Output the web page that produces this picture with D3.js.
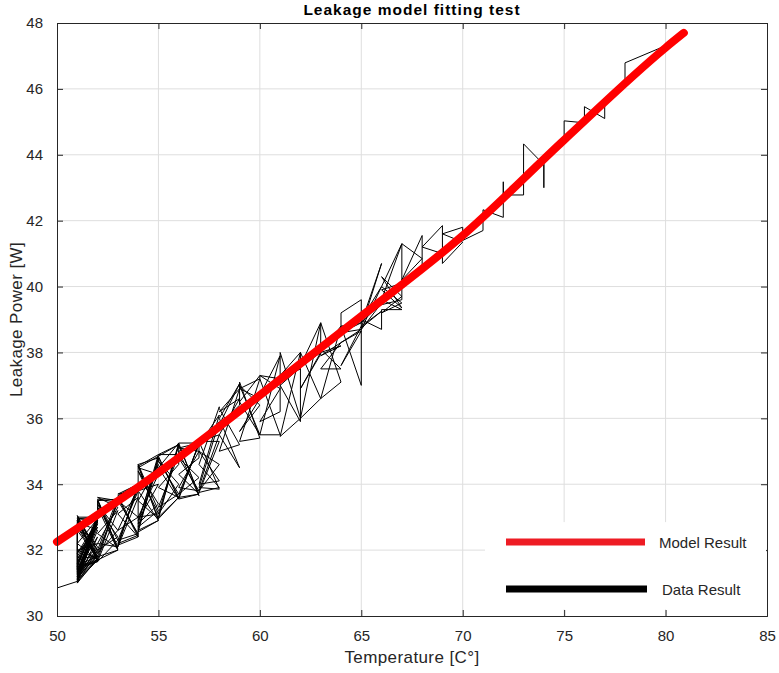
<!DOCTYPE html>
<html>
<head>
<meta charset="utf-8">
<script src="https://cdn.jsdelivr.net/npm/d3@7"></script>
<style>
  body { margin: 0; background: #fff; }
  text { font-family: "Liberation Sans", Arial, Helvetica, sans-serif; fill: #262626; }
</style>
</head>
<body>
<div id="chart"></div>
<script>
// axis ticks
const xTicks = [50, 55, 60, 65, 70, 75, 80, 85];
const yTicks = [30, 32, 34, 36, 38, 40, 42, 44, 46, 48];

// fitted model (red curve)
const modelTemp = [50, 55, 60, 65, 70, 75, 80, 80.9];
const modelPower = [32.25, 34.35, 36.7, 39.1, 41.55, 44.45, 47.25, 47.7];

// measured samples [temperature, power], in recording order
const band51to54 = [
  [50, 30.85], [51, 31.05],
  [51, 32.9], [52, 31.7], [51, 31.1], [52, 32.95], [51, 31.3], [51, 32.8], [52, 31.8], [51, 31.2],
  [52, 33.0], [51, 31.5], [52, 31.65], [51, 32.95], [52, 32.0], [51, 31.0], [52, 32.9], [51, 31.4],
  [51, 32.6], [52, 31.75], [51, 31.15], [52, 32.8], [51, 31.6], [52, 33.05], [51, 31.25], [52, 31.9],
  [51, 32.7], [52, 31.7], [51, 31.35], [52, 32.85], [51, 31.8], [52, 31.75], [51, 32.9], [52, 32.1],
  [51, 31.1], [52, 32.95], [51, 31.55], [52, 31.8], [51, 33.05], [52, 31.95], [51, 31.3], [52, 32.9],
  [51, 31.9], [52, 32.7], [51, 31.2], [52, 33.0], [51, 33.0], [52, 31.65], [51, 31.45], [52, 32.4],
  [51, 31.05], [52, 31.7], [51, 32.2], [52, 32.95], [51, 31.7], [52, 31.85], [51, 31.15], [52, 32.6],
  [51, 32.85], [52, 31.7], [51, 31.5], [52, 33.0], [51, 31.25], [52, 32.2], [51, 32.0], [52, 31.75],
  [51, 31.0], [52, 32.9], [51, 32.95], [52, 33.0],
  [52, 33.5], [53, 32.0], [52, 31.8], [53, 33.5], [52, 33.6], [53, 33.3], [52, 32.2], [53, 32.1],
  [52, 33.4], [53, 32.6], [52, 31.9], [53, 33.45], [52, 33.55], [53, 32.05], [52, 32.5], [53, 33.2],
  [52, 31.65], [53, 32.3], [52, 33.5], [53, 33.55], [52, 31.7], [53, 32.0], [52, 33.3], [53, 32.4],
  [52, 32.0], [53, 33.6],
  [53, 33.6], [54, 32.4], [53, 32.15], [54, 34.0], [53, 33.7], [54, 33.8], [53, 32.3], [54, 32.5],
  [53, 33.5], [54, 33.0], [53, 32.6], [54, 33.9], [53, 32.2], [54, 32.45], [53, 33.65], [54, 34.0],
  [53, 32.1], [54, 33.6], [53, 33.1], [54, 32.4]
];
const band54to58 = [
  [54, 34.6], [55, 32.9], [54, 32.6], [55, 34.85], [54, 34.5], [55, 34.3], [54, 33.0], [55, 33.1],
  [54, 34.4], [55, 33.4], [54, 32.8], [55, 34.9], [54, 34.55], [55, 32.95], [54, 33.5], [55, 34.6],
  [54, 32.7], [55, 33.2], [54, 34.6], [55, 34.8], [54, 32.55], [55, 32.9], [54, 33.8], [55, 34.0],
  [54, 32.9], [55, 34.7],
  [55, 34.8], [56, 33.6], [55, 33.0], [56, 35.2], [55, 34.9], [56, 34.9], [55, 33.3], [56, 33.7],
  [55, 34.7], [56, 34.0], [55, 33.1], [56, 35.25], [55, 34.5], [56, 33.55], [55, 34.85], [56, 35.2],
  [55, 32.95], [56, 33.6], [55, 33.9], [56, 34.6],
  [56, 35.2], [57, 33.7], [56, 33.6], [57, 35.25], [56, 35.1], [57, 35.0], [56, 33.9], [57, 33.8],
  [56, 34.8], [57, 34.2], [56, 33.7], [57, 35.2], [56, 35.0], [57, 33.65], [56, 35.25], [57, 35.25],
  [56, 33.55], [57, 33.7], [56, 34.3], [57, 34.8],
  [57, 35.3], [58, 33.85], [57, 33.9], [58, 35.9], [57, 35.2], [58, 36.1], [57, 34.0], [58, 34.1],
  [57, 35.0], [58, 34.6], [57, 33.8], [58, 35.5], [57, 35.3], [58, 35.3], [57, 33.75], [58, 33.9],
  [57, 34.6], [58, 36.35]
];
const band58to62 = [
  [58, 36.3], [59, 35.2], [58, 35.0], [59, 36.9], [58, 36.2], [59, 36.6], [58, 35.5], [59, 34.5],
  [58, 36.0], [59, 37.05], [58, 35.8], [59, 36.4],
  [59, 37.1], [60, 35.4], [59, 35.3], [60, 37.2], [59, 36.9], [60, 36.6], [59, 35.6], [60, 36.4],
  [59, 37.0], [60, 35.5], [59, 36.5], [60, 37.3],
  [60, 37.2], [61, 35.5], [60, 35.5], [61, 37.9], [60, 36.7], [61, 37.2], [60, 37.3], [61, 36.9],
  [60, 35.9], [61, 36.2],
  [61, 38.0], [62, 36.0], [61, 35.45], [62, 38.0], [61, 37.3], [62, 37.5], [61, 37.2], [62, 37.55],
  [61, 37.0], [62, 35.9]
];
const band62to67 = [
  [62, 38.0], [63, 36.6], [62, 36.0], [63, 38.9], [62, 37.6], [63, 38.1], [62, 37.55], [63, 38.0],
  [62, 36.9], [63, 37.95],
  [63, 38.9], [64, 37.1], [63, 36.6], [64, 38.8], [63, 38.0], [64, 38.2], [63, 37.9], [64, 38.3],
  [63, 37.5], [64, 37.5], [63, 38.1], [64, 38.6],
  [64, 39.2], [65, 39.6], [65, 37.0], [64, 38.8], [65, 38.9], [64, 38.6], [65, 38.7], [64, 38.3],
  [65, 38.65], [64, 37.6], [65, 38.8],
  [66, 39.25], [65, 38.75], [66, 40.7], [65, 38.9], [66, 39.5], [65, 38.7], [66, 40.0], [65, 39.0],
  [66, 38.7],
  [66, 39.3], [67, 39.3], [66, 39.6], [67, 41.3], [66, 40.0], [67, 39.5], [66, 39.2], [67, 39.7],
  [66, 40.3], [67, 39.35], [66, 39.9], [67, 40.1], [66, 39.45], [67, 39.6]
];
const band67to80 = [
  [67, 41.3], [68, 40.85], [67, 40.2], [68, 41.55], [68, 40.6], [69, 41.0], [68, 41.2], [69, 41.85],
  [69, 40.7], [70, 41.35], [69, 41.6], [70, 41.8], [70, 41.4], [71, 41.7], [71, 42.33], [72, 42.1],
  [72, 43.18], [72, 42.78], [73, 42.78], [73, 44.33], [74, 43.7], [74, 43.0], [74, 43.97], [75, 44.42],
  [75, 45.03], [76, 44.97], [76, 45.46], [77, 45.1], [77, 45.7], [78, 46.19], [78, 46.79], [80, 47.31]
];

var margin = { top: 23, left: 57, right: 12, bottom: 57 },
    width = 779 - margin.left - margin.right,
    height = 673 - margin.top - margin.bottom;

var svg = d3.select("#chart")
    .append("svg")
    .attr("width", 779)
    .attr("height", 673)
    .append("g")
    .attr("transform", "translate(" + margin.left + "," + margin.top + ")");

var x = d3.scaleLinear().domain([50, 85]).range([0, width]);
var y = d3.scaleLinear().domain([30, 48]).range([height, 0]);

// GRID
svg.append("g").selectAll("line")
    .data(xTicks.slice(1, -1))
    .enter().append("line")
    .attr("x1", d => x(d)).attr("x2", d => x(d))
    .attr("y1", 0).attr("y2", height)
    .attr("stroke", "#dedede").attr("stroke-width", 1);

svg.append("g").selectAll("line")
    .data(yTicks.slice(1, -1))
    .enter().append("line")
    .attr("x1", 0).attr("x2", width)
    .attr("y1", d => y(d)).attr("y2", d => y(d))
    .attr("stroke", "#dedede").attr("stroke-width", 1);

// DATA
var samples = band51to54.concat(band54to58, band58to62, band62to67, band67to80);

var dataLine = d3.line()
    .x(d => x(d[0]))
    .y(d => y(d[1]));

svg.append("path")
    .datum(samples)
    .attr("d", dataLine)
    .attr("fill", "none")
    .attr("stroke", "#000")
    .attr("stroke-width", 1);

// MODEL
var model = modelTemp.map((t, i) => [t, modelPower[i]]);

var modelLine = d3.line()
    .x(d => x(d[0]))
    .y(d => y(d[1]))
    .curve(d3.curveMonotoneX);

svg.append("path")
    .datum(model)
    .attr("d", modelLine)
    .attr("fill", "none")
    .attr("stroke", "#ff0000")
    .attr("stroke-width", 8)
    .attr("stroke-linecap", "round");

// AXES
var xAxis = d3.axisBottom(x).tickValues(xTicks).tickSize(-6).tickPadding(14);
var yAxis = d3.axisLeft(y).tickValues(yTicks).tickSize(-6).tickPadding(14);

function styleAxis(g) {
    g.select(".domain").attr("stroke", "#262626");
    g.selectAll(".tick line").attr("stroke", "#262626");
    g.selectAll(".tick text")
        .style("font-size", "15px")
        .style("font-family", "'Liberation Sans', Arial, sans-serif")
        .attr("fill", "#262626");
}

svg.append("g")
    .attr("transform", "translate(0," + height + ")")
    .call(xAxis)
    .call(styleAxis);

svg.append("g")
    .call(yAxis)
    .call(styleAxis);

svg.append("g")
    .call(d3.axisTop(x).tickValues(xTicks).tickSize(-6).tickFormat(""))
    .call(styleAxis);

svg.append("g")
    .attr("transform", "translate(" + width + ",0)")
    .call(d3.axisRight(y).tickValues(yTicks).tickSize(-6).tickFormat(""))
    .call(styleAxis);

// LEGEND
var legend = svg.append("g");

legend.append("rect")
    .attr("x", x(71.1)).attr("y", y(32.85))
    .attr("width", width - x(71.1) - 1)
    .attr("height", y(30.2) - y(32.85))
    .attr("fill", "#fff");

var legendItems = [
    { label: "Model Result", color: "#ee1c24", y: 542, x2: 645, tx: 659 },
    { label: "Data Result", color: "#000", y: 589, x2: 647, tx: 662 }
];

legend.selectAll(".item-line")
    .data(legendItems)
    .enter().append("line")
    .attr("x1", 506 - margin.left)
    .attr("x2", d => d.x2 - margin.left)
    .attr("y1", d => d.y - margin.top)
    .attr("y2", d => d.y - margin.top)
    .attr("stroke", d => d.color)
    .attr("stroke-width", 7);

legend.selectAll(".item-text")
    .data(legendItems)
    .enter().append("text")
    .attr("x", d => d.tx - margin.left)
    .attr("y", d => d.y - margin.top + 6)
    .style("font-size", "15px")
    .text(d => d.label);

// LABELS
svg.append("text")
    .attr("x", width / 2)
    .attr("y", -8)
    .attr("text-anchor", "middle")
    .style("font-size", "15.5px")
    .style("font-weight", "bold")
    .style("letter-spacing", "1px")
    .style("fill", "#000")
    .text("Leakage model fitting test");

svg.append("text")
    .attr("x", width / 2)
    .attr("y", height + 47)
    .attr("text-anchor", "middle")
    .style("font-size", "17px")
    .style("letter-spacing", "0.4px")
    .text("Temperature [C°]");

svg.append("text")
    .attr("transform", "translate(" + (-35) + "," + (height / 2) + ") rotate(-90)")
    .attr("text-anchor", "middle")
    .style("font-size", "17px")
    .style("letter-spacing", "0.4px")
    .text("Leakage Power [W]");
</script>
</body>
</html>
